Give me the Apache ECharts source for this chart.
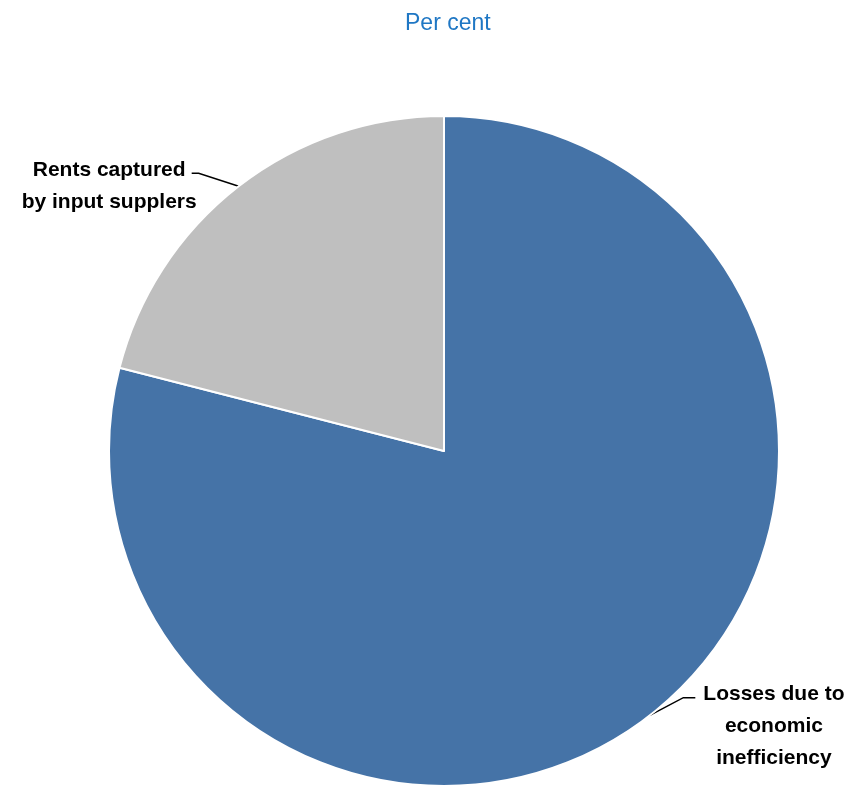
<!DOCTYPE html>
<html>
<head>
<meta charset="utf-8">
<script src="https://cdn.jsdelivr.net/npm/echarts@6/dist/echarts.min.js"></script>
<style>
  html, body { margin: 0; padding: 0; background: #fff; }
  #main { width: 850px; height: 785px; }
</style>
</head>
<body>
<div id="main"></div>
<script>
// 数据
const categories = ['Losses due to\neconomic\ninefficiency', 'Rents captured\nby input supplers'];
const shares = [79, 21];
const colors = ['#4573a7', '#bfbfbf'];

let myChart = echarts.init(document.getElementById('main'));
myChart.setOption({
  animation: false,
  title: {
    text: 'Per cent',
    left: 400,
    top: 7,
    textStyle: {
      color: '#1f77c4',
      fontSize: 23,
      fontWeight: 'normal',
      fontFamily: 'Liberation Sans'
    }
  },
  series: [
    {
      type: 'pie',
      center: [444, 451],
      radius: 335,
      startAngle: 90,
      clockwise: true,
      data: categories.map((name, i) => ({
        name: name,
        value: shares[i],
        itemStyle: { color: colors[i] }
      })),
      itemStyle: {
        borderColor: '#fff',
        borderWidth: 2
      },
      label: {
        show: true,
        position: 'outside',
        // 每行居中
        formatter: p => p.name.split('\n').map(s => '{c|' + s + '}').join('\n'),
        rich: {
          c: {
            align: 'center',
            color: '#000',
            fontSize: 21,
            fontWeight: 'bold',
            fontFamily: 'Liberation Sans',
            lineHeight: 32
          }
        }
      },
      labelLine: {
        show: true,
        length: 12,
        length2: 32,
        lineStyle: { color: '#000', width: 1.5 }
      },
      // 引导线折向外侧
      labelLayout: function (params) {
        const p0 = params.labelLinePoints[0];
        const left = p0[0] < 444;
        const p1 = left ? [p0[0] - 40, p0[1] - 13] : [p0[0] + 34, p0[1] - 18];
        const p2 = left ? [p1[0] - 7, p1[1]] : [p1[0] + 12, p1[1]];
        return {
          x: left ? p2[0] + 5 : p2[0] + 8,
          y: p1[1] + (left ? 13 : 29),
          align: left ? 'right' : 'left',
          verticalAlign: 'middle',
          labelLinePoints: [p0, p1, p2]
        };
      }
    }
  ]
});
</script>
</body>
</html>
